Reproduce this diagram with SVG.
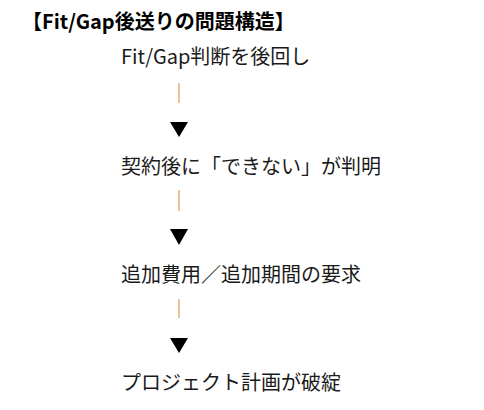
<svg xmlns="http://www.w3.org/2000/svg" width="484" height="410" viewBox="0 0 484 410">
<style>
.t{font-family:"Noto Sans CJK JP","Noto Sans",sans-serif;font-size:20px;fill:#1a1a1a}
.h{font-family:"Noto Sans CJK JP","Noto Sans",sans-serif;font-size:20px;font-weight:bold;fill:#000}
.bar{stroke:#e0954f;stroke-width:1.2}
.tri{fill:#000}
</style>
<rect width="484" height="410" fill="#fff"/>
<g id="title"><text class="h" x="22" y="29">【Fit/Gap後送りの問題構造】</text></g>
<g id="n1"><text class="t" x="121" y="64">Fit/Gap判断を後回し</text></g>
<g id="n2"><text class="t" x="121" y="174">契約後に「できない」が判明</text></g>
<g id="n3"><text class="t" x="121" y="282">追加費用／追加期間の要求</text></g>
<g id="n4"><text class="t" x="121" y="390">プロジェクト計画が破綻</text></g>
<g id="connectors">
<line class="bar" x1="179" y1="83" x2="179" y2="103"/>
<polygon class="tri" points="170,122 188,122 179,137"/>
<line class="bar" x1="179" y1="190" x2="179" y2="211"/>
<polygon class="tri" points="170,229 188,229 179,245"/>
<line class="bar" x1="179" y1="299" x2="179" y2="318"/>
<polygon class="tri" points="170,338 188,338 179,353"/>
</g>
</svg>
